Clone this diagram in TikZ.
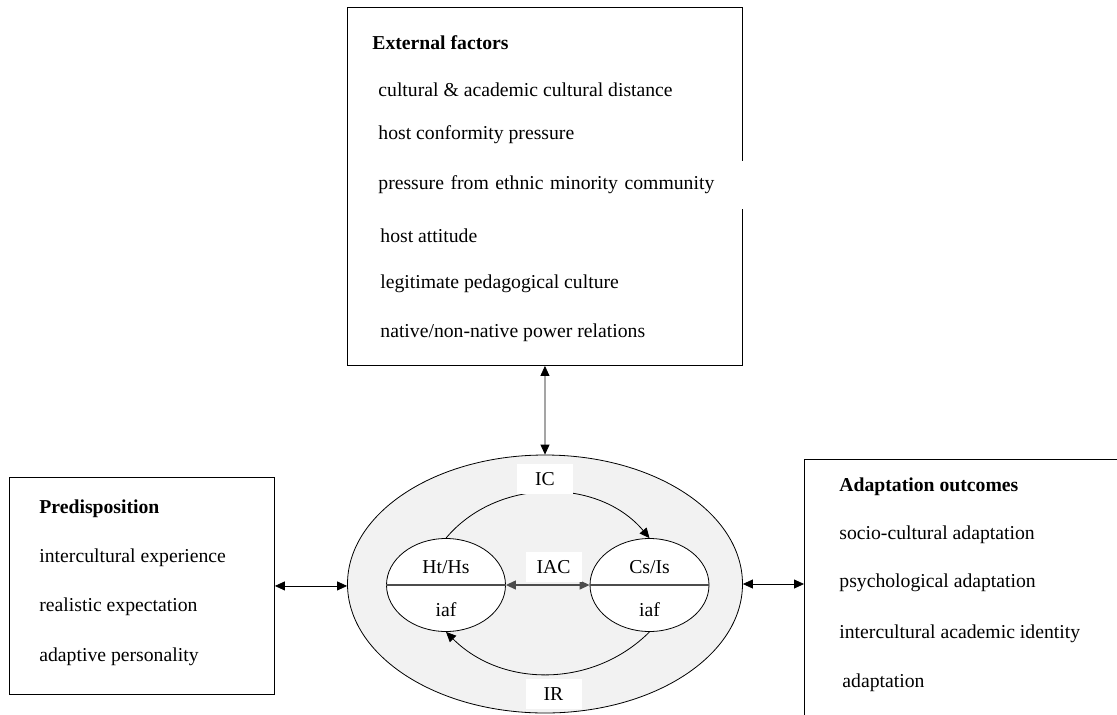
\documentclass[tikz,border=0pt]{standalone}
\usepackage{fontspec}
\setmainfont{Liberation Serif}
\usetikzlibrary{arrows.meta,shapes.geometric}
\tikzset{
  box/.style={draw, line width=0.9pt, anchor=north west, inner sep=0pt},
  item/.style={anchor=west, inner sep=0pt},
  head/.style={item, font=\fontsize{19.7}{23}\selectfont\bfseries},
  half/.style={ellipse, draw, fill=white, line width=0.8pt, minimum width=119pt, minimum height=93pt, inner sep=0pt},
  tag/.style={fill=white, minimum width=56pt, minimum height=30pt, inner sep=0pt}
}
\begin{document}
\begin{tikzpicture}[x=1pt,y=1pt,font=\fontsize{19.7}{23}\selectfont,
    >={Triangle[length=10pt,width=9pt]}, line width=0.8pt]
            \useasboundingbox (0,0) rectangle (1117,-715);
            \clip (0,0) rectangle (1117,-715);
            % the three boxes
            \node[box, minimum width=395pt, minimum height=358pt] (ext) at (347,-7) {};
            \node[box, minimum width=265pt, minimum height=217pt] (pre) at (9,-477) {};
            \node[box, minimum width=340pt, minimum height=290pt] (out) at (804,-459) {};
            % external factors
            \node[head] (exthead) at (372,-43) {External factors};
            \node[item] (ext1) at (378,-90) {cultural \& academic cultural distance};
            \node[item] (ext2) at (378,-135) {host conformity pressure};
            \node[item, fill=white, text width=372pt, align=left, minimum height=48pt] (ext3) at (378,-185) {pressure from ethnic minority community};
            \node[item] (ext4) at (380,-236) {host attitude};
            \node[item] (ext5) at (380,-284) {legitimate pedagogical culture};
            \node[item] (ext6) at (380,-333) {native/non-native power relations};
            % predisposition
            \node[head] (prehead) at (39,-509) {Predisposition};
            \node[item] (pre1) at (39,-558) {intercultural experience};
            \node[item] (pre2) at (39,-607) {realistic expectation};
            \node[item] (pre3) at (39,-657) {adaptive personality};
            % adaptation outcomes
            \node[head] (outhead) at (839,-487) {Adaptation outcomes};
            \node[item] (out1) at (839,-535) {socio-cultural adaptation};
            \node[item] (out2) at (839,-583) {psychological adaptation};
            \node[item] (out3) at (839,-634) {intercultural academic identity};
            \node[item] (out4) at (842,-683) {adaptation};
            % the middle ellipse
            \node[ellipse, draw, fill=gray!10, minimum width=395pt, minimum height=258pt] (proc) at (545,-584) {};
            \node[half] (hths) at (446,-585) {};
            \node[half] (csis) at (649.5,-585) {};
            \draw[gray!60!black, line width=1.2pt] (hths.west) -- (hths.east);
            \draw[gray!60!black, line width=1.2pt] (csis.west) -- (csis.east);
            \node (hthsup) at (446,-567) {Ht/Hs};
            \node (hthslow) at (446,-610) {iaf};
            \node (csisup) at (649.5,-567) {Cs/Is};
            \node (csislow) at (649.5,-610) {iaf};
            % arrows
            \draw[<->] (ext.south) -- (proc.north);
            \draw[<->] (pre.east) -- (pre.east -| proc.west);
            \draw[<->] (proc.east) -- (proc.east -| out.west);
            \draw[<->, gray!60!black, line width=1.2pt] (hths.east) -- (csis.west);
            \draw[->] (hths.north) to[bend left=50] (csis.north);
            \draw[->] (csis.south) to[bend left=45] (hths.south);
            % labels on the ellipse
            \node[tag] (ic) at (545,-479) {IC};
            \node[tag] (iac) at (553.5,-567) {IAC};
            \node[tag] (ir) at (553.5,-694) {IR};
        \end{tikzpicture}
\end{document}
